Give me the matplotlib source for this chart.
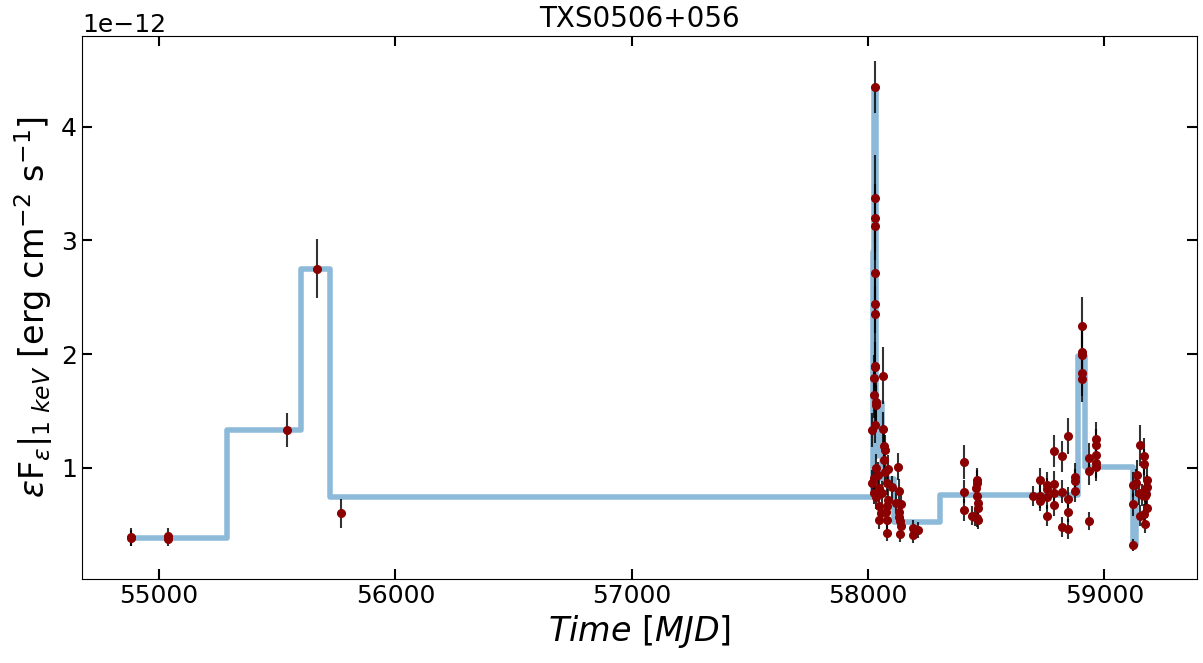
import numpy as np
import matplotlib.pyplot as plt

# --- light curve points (MJD, flux in units of 1e-12, error) ---
t_pts = [54882, 54882, 55039, 55039, 55540, 55670, 55770,
         # flare around 58030
         58030, 58030, 58030, 58030, 58030, 58030, 58030, 58030,
         58030, 58063, 58025, 58025, 58034, 58034, 58030, 58017,
         58063, 58068, 58072, 58068, 58034, 58085, 58127, 58072,
         58042, 58025, 58017, 58080, 58047, 58025, 58059, 58102,
         58034, 58131, 58085, 58119, 58140, 58047, 58080, 58131,
         58055, 58076, 58131, 58047, 58080, 58135, 58140, 58135,
         58080, 58191, 58212, 58191,
         # 58400 group
         58408, 58408, 58408, 58438, 58459, 58459, 58455, 58459,
         58464, 58464, 58459, 58464, 58451,
         # 58700-59000
         58699, 58728, 58728, 58728, 58758, 58758, 58758, 58758,
         58788, 58788, 58788, 58788, 58821, 58821, 58821, 58847,
         58847, 58847, 58847, 58876, 58876, 58876, 58906, 58906,
         58906, 58906, 58906, 58936, 58936, 58936, 58965, 58965,
         58965, 58965, 58965,
         # 59120-59185
         59122, 59122, 59122, 59140, 59135, 59152, 59148, 59161,
         59152, 59169, 59169, 59173, 59173, 59181, 59181, 59181,
         59169, 59173, 59177]

f_pts = [0.39, 0.38, 0.40, 0.37, 1.33, 2.75, 0.60,
         4.35, 3.37, 3.20, 3.13, 2.71, 2.44, 2.35, 1.89,
         1.90, 1.81, 1.79, 1.64, 1.58, 1.55, 1.38, 1.33,
         1.34, 1.19, 1.16, 1.07, 1.00, 0.99, 1.01, 0.96,
         0.94, 0.91, 0.87, 0.87, 0.82, 0.78, 0.78, 0.83,
         0.74, 0.80, 0.72, 0.69, 0.68, 0.66, 0.66, 0.61,
         0.60, 0.61, 0.57, 0.54, 0.54, 0.53, 0.49, 0.42,
         0.43, 0.47, 0.45, 0.41,
         1.05, 0.79, 0.63, 0.58, 0.89, 0.87, 0.82, 0.75,
         0.69, 0.65, 0.56, 0.54, 0.57,
         0.75, 0.89, 0.75, 0.71, 0.85, 0.81, 0.74, 0.58,
         1.15, 0.86, 0.78, 0.67, 1.10, 0.79, 0.48, 1.28,
         0.73, 0.61, 0.46, 0.92, 0.88, 0.80, 2.25, 2.02,
         1.99, 1.83, 1.78, 1.09, 0.97, 0.53, 1.25, 1.20,
         1.11, 1.04, 1.01,
         0.32, 0.68, 0.85, 0.94, 0.87, 1.20, 0.78, 0.76,
         0.58, 1.10, 1.03, 0.81, 0.75, 0.89, 0.83, 0.65,
         0.59, 0.51, 0.77]

e_pts = [0.08, 0.07, 0.07, 0.06, 0.15, 0.26, 0.13,
         0.23, 0.38, 0.30, 0.30, 0.30, 0.25, 0.25, 0.22,
         0.20, 0.25, 0.20, 0.20, 0.18, 0.18, 0.16, 0.15,
         0.15, 0.14, 0.13, 0.13, 0.12, 0.12, 0.12, 0.12,
         0.11, 0.11, 0.11, 0.11, 0.10, 0.10, 0.10, 0.10,
         0.10, 0.10, 0.09, 0.09, 0.09, 0.09, 0.09, 0.08,
         0.08, 0.08, 0.08, 0.08, 0.08, 0.08, 0.07, 0.07,
         0.07, 0.07, 0.07, 0.07,
         0.15, 0.10, 0.10, 0.08, 0.11, 0.11, 0.10, 0.10,
         0.09, 0.09, 0.08, 0.08, 0.08,
         0.09, 0.11, 0.10, 0.09, 0.11, 0.10, 0.10, 0.09,
         0.14, 0.11, 0.10, 0.09, 0.14, 0.10, 0.09, 0.16,
         0.10, 0.09, 0.09, 0.12, 0.11, 0.10, 0.25, 0.22,
         0.22, 0.20, 0.20, 0.13, 0.12, 0.08, 0.15, 0.14,
         0.14, 0.13, 0.13,
         0.05, 0.10, 0.11, 0.13, 0.12, 0.18, 0.11, 0.10,
         0.09, 0.16, 0.14, 0.11, 0.10, 0.12, 0.11, 0.09,
         0.09, 0.08, 0.10]

# --- bayesian blocks (edges in MJD, flux in units of 1e-12) ---
block_edges = [54882, 55286, 55600, 55724, 58019, 58026, 58034, 58040,
               58058, 58110, 58306, 58889, 58918, 59122, 59135, 59185]
block_flux = [0.387, 1.334, 2.75, 0.742, 2.9, 4.35, 1.1, 1.57,
              0.9, 0.525, 0.762, 1.98, 1.006, 0.32, 0.78]

scale = 1e-12
t_pts = np.array(t_pts)
f_pts = np.array(f_pts) * scale
e_pts = np.array(e_pts) * scale

fig, ax = plt.subplots(figsize=(12.03, 6.63), dpi=100)
fig.subplots_adjust(left=0.068, right=0.995, top=0.946, bottom=0.127)

# blocks as a step line
ax.step(block_edges, np.append(block_flux, block_flux[-1]) * scale, where='post',
        color='tab:blue', alpha=0.5, lw=4, zorder=1)

# error bars then the points on top
ax.errorbar(t_pts, f_pts, yerr=e_pts, fmt='none', ecolor='black',
            elinewidth=1.5, alpha=0.8, zorder=2)
ax.plot(t_pts, f_pts, 'o', color='darkred', ms=5.5, zorder=3)

ax.set_xlim(54673, 59392)
ax.set_ylim(0.024e-12, 4.8e-12)

ax.set_title('TXS0506+056', fontsize=20)
ax.set_xlabel(r'$Time\ [MJD]$', fontsize=24)
ax.set_ylabel(r'$\varepsilon$F$_{\varepsilon}|_{1\ keV}$ [erg cm$^{-2}$ s$^{-1}$]', fontsize=24)

ax.tick_params(direction='in', top=True, right=True, length=7, width=1.5, labelsize=18)
ax.yaxis.get_offset_text().set_fontsize(18)

plt.savefig('out.png', dpi=100)
